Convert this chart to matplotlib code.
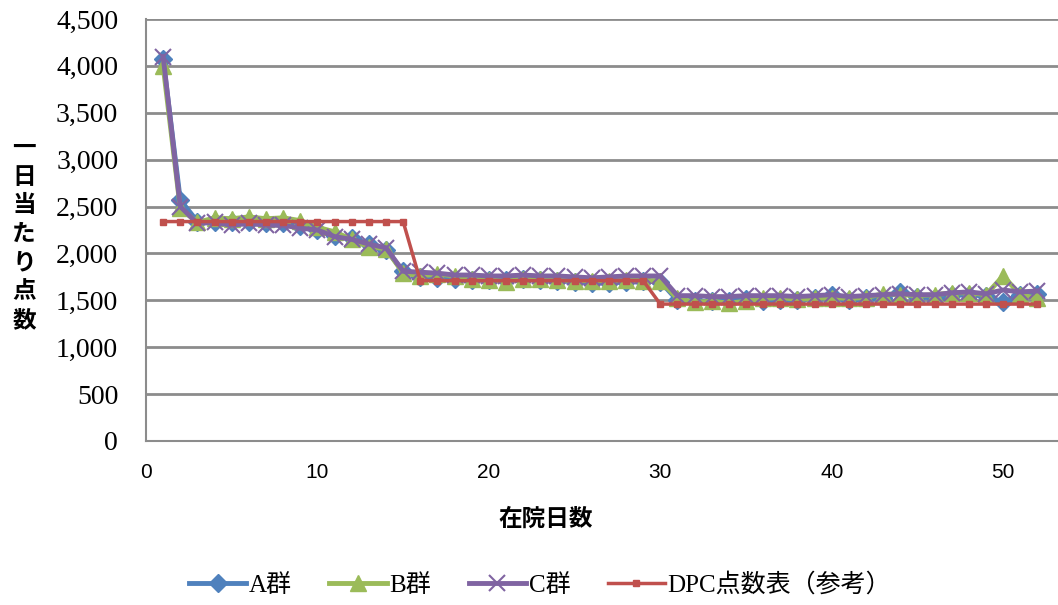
import numpy as np
import matplotlib.pyplot as plt

plt.rcParams['font.family'] = ['Liberation Serif', 'Noto Sans CJK JP']

days = np.arange(1, 53)

group_a = [4070, 2570, 2340, 2330, 2330, 2340, 2320, 2320, 2290, 2250, 2190, 2170, 2100, 2040,
           1810, 1750, 1740, 1730, 1720, 1720, 1720, 1730, 1720, 1710, 1700, 1690, 1690, 1700,
           1710, 1700, 1500, 1490, 1490, 1490, 1510, 1490, 1500, 1500, 1530, 1560, 1500, 1520,
           1520, 1590, 1540, 1530, 1560, 1560, 1550, 1480, 1560, 1570]
group_b = [4000, 2480, 2330, 2380, 2370, 2390, 2370, 2380, 2350, 2280, 2230, 2150, 2070, 2050,
           1790, 1760, 1780, 1760, 1730, 1720, 1700, 1730, 1730, 1720, 1710, 1710, 1710, 1720,
           1710, 1710, 1520, 1480, 1490, 1470, 1490, 1520, 1530, 1510, 1520, 1530, 1520, 1530,
           1570, 1560, 1550, 1560, 1580, 1580, 1560, 1760, 1560, 1520]
group_c = [4100, 2500, 2320, 2330, 2300, 2320, 2300, 2300, 2270, 2250, 2180, 2150, 2100, 2060,
           1810, 1800, 1790, 1770, 1770, 1760, 1760, 1770, 1760, 1760, 1750, 1740, 1750, 1760,
           1760, 1760, 1550, 1550, 1540, 1540, 1550, 1550, 1550, 1540, 1550, 1560, 1540, 1550,
           1560, 1570, 1560, 1560, 1580, 1590, 1570, 1610, 1590, 1600]
dpc = [2340] * 15 + [1710] * 14 + [1460] * 23

labels = ['A群', 'B群', 'C群', 'DPC点数表（参考）']
colors = ['#4F81BD', '#9BBB59', '#8064A2', '#C0504D']

fig = plt.figure(figsize=(10.58, 6.05), dpi=100)
ax = fig.add_axes([146 / 1058, 1 - 441 / 605, 1 - 146 / 1058, 422 / 605])

ax.plot(days, group_a, color=colors[0], lw=3.5, marker='D', ms=9, label=labels[0])
ax.plot(days, group_b, color=colors[1], lw=3.5, marker='^', ms=12, label=labels[1])
ax.plot(days, group_c, color=colors[2], lw=3.5, marker='x', ms=11, mew=1.5, label=labels[2])
ax.plot(days, dpc, color=colors[3], lw=2.5, marker='s', ms=5, label=labels[3])

ax.set_xlim(0, 53.2)
ax.set_ylim(0, 4500)
ax.set_yticks(np.arange(0, 4501, 500))
ax.set_yticklabels([f'{v:,}' for v in range(0, 4501, 500)], fontsize=20)
ax.set_xticks([0, 10, 20, 30, 40, 50])
ax.set_xticklabels(['0', '10', '20', '30', '40', '50'], fontsize=15,
                   family=['Liberation Sans'])
ax.tick_params(axis='y', length=0, pad=20)
ax.tick_params(axis='x', length=0, pad=16)

ax.grid(axis='y', color='#8c8c8c', lw=2)
ax.set_axisbelow(True)
for s in ['top', 'right']:
    ax.spines[s].set_visible(False)
for s in ['left', 'bottom']:
    ax.spines[s].set_color('#8c8c8c')
    ax.spines[s].set_linewidth(1.5)

fig.text(546 / 1058, 1 - 519 / 605, '在院日数', ha='center', va='center', fontsize=17,
         fontweight='bold', family=['Noto Sans CJK JP'])
fig.text(24 / 1058, 1 - 234 / 605, '\n'.join('一日当たり点数'), ha='center', va='center',
         fontsize=17, fontweight='bold', family=['Noto Sans CJK JP'], linespacing=1.25)

fig.legend(loc='center', bbox_to_anchor=(540 / 1058, 1 - 585 / 605), ncol=4, frameon=False,
           fontsize=18, handlelength=2.3, columnspacing=1.5, handletextpad=0.1)

fig.savefig('out.png', dpi=100)
